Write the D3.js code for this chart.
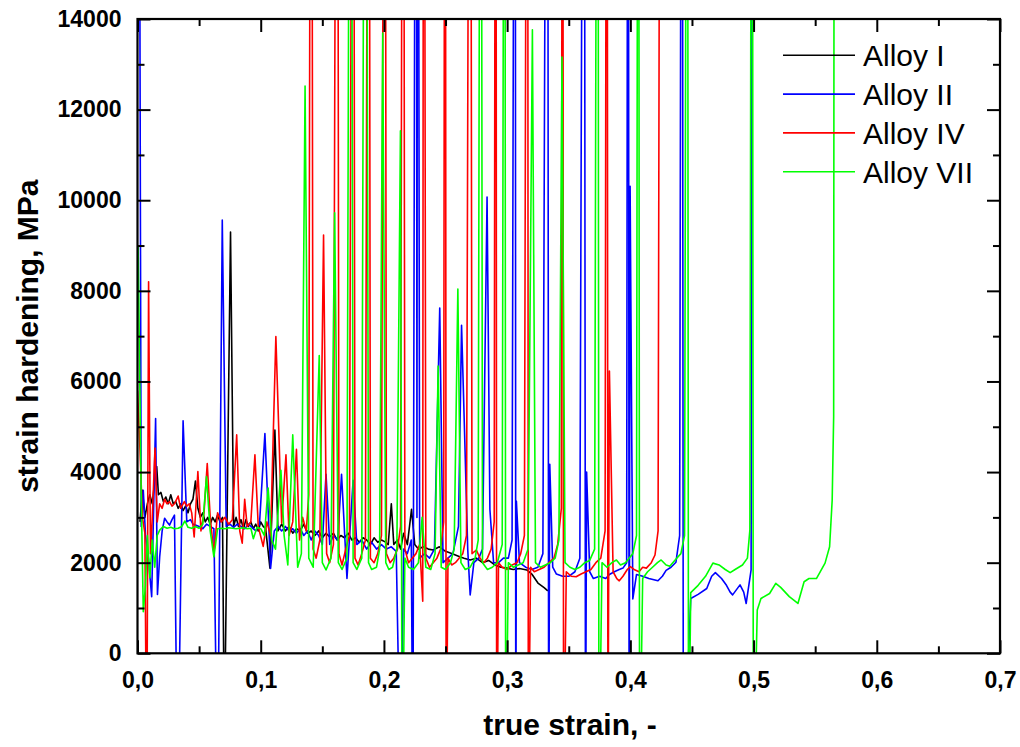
<!DOCTYPE html>
<html>
<head>
<meta charset="utf-8">
<script src="https://cdn.jsdelivr.net/npm/d3@7"></script>
<style>
  body { margin: 0; background: #fff; }
  svg { display: block; font-family: "Liberation Sans", Arial, sans-serif; }
</style>
</head>
<body>
<div id="chart"></div>
<script>
// strain hardening vs true strain, four alloys ([strain, MPa])
// values far above 14000 / below 0 are serration spikes that run off the frame
const seriesNames = ["Alloy I", "Alloy II", "Alloy IV", "Alloy VII"];
const seriesColors = ["#000000", "#0000ff", "#ff0000", "#00ff00"];

const alloyI = [
  [0.002, 2900], [0.004, 3600], [0.006, 3000], [0.008, 3300], [0.010, 3500], [0.012, 3300],
  [0.014, 3800], [0.0156, 4120], [0.017, 3500], [0.019, 3550], [0.021, 3350], [0.023, 3450],
  [0.025, 3300], [0.027, 3500], [0.029, 3300], [0.031, 3350], [0.033, 3200], [0.035, 3300],
  [0.037, 3150], [0.039, 3250], [0.041, 3100], [0.043, 3300], [0.045, 3400], [0.047, 3800],
  [0.049, 3200], [0.051, 3000], [0.053, 3100], [0.055, 2900], [0.057, 3000], [0.059, 2850],
  [0.061, 3000], [0.063, 2900], [0.065, 3050], [0.067, 2900], [0.069, 3000], [0.0705, -2000],
  [0.0755, 9300], [0.078, 2800], [0.080, 3000], [0.082, 2800], [0.084, 2950], [0.086, 2750],
  [0.088, 2950], [0.090, 2800], [0.092, 2900], [0.094, 2750], [0.096, 2850], [0.098, 2700],
  [0.100, 2900], [0.102, 2800], [0.104, 2750], [0.1075, 1880], [0.1115, 4930], [0.114, 2700],
  [0.117, 2850], [0.120, 2700], [0.123, 2800], [0.126, 2650], [0.129, 2750], [0.132, 2700],
  [0.135, 2850], [0.138, 2650], [0.141, 2700], [0.144, 2600], [0.147, 2700], [0.150, 2550],
  [0.153, 2650], [0.156, 2570], [0.159, 2650], [0.162, 2500], [0.165, 2600], [0.168, 2550],
  [0.171, 2650], [0.174, 2500], [0.177, 2550], [0.180, 2450], [0.183, 2550], [0.186, 2500],
  [0.189, 2400], [0.192, 2550], [0.195, 2450], [0.198, 2500], [0.201, 2460], [0.2035, 2400],
  [0.206, 3300], [0.208, 2400], [0.211, 2500], [0.2135, 2300], [0.216, 2650], [0.219, 2400],
  [0.2224, 3180], [0.225, 2400], [0.228, 2300], [0.232, 2350], [0.236, 2300], [0.240, 2280],
  [0.245, 2350], [0.250, 2250], [0.255, 2200], [0.260, 2150], [0.265, 2100], [0.270, 2060],
  [0.275, 2100], [0.280, 2000], [0.285, 2050], [0.290, 1950], [0.295, 1900], [0.300, 1880],
  [0.305, 1850], [0.310, 1870], [0.316, 1840], [0.320, 1750], [0.325, 1550], [0.330, 1450],
  [0.333, 1380]
];

const alloyII = [
  [0.0005, 30000], [0.003, 2800], [0.0047, 3600], [0.0065, 2600], [0.0088, 2100], [0.0115, 1250],
  [0.0147, 5180], [0.0162, 1300], [0.018, 2130], [0.020, 2700], [0.022, 2980], [0.024, 2900],
  [0.026, 2830], [0.028, 2950], [0.030, 3050], [0.0326, -3000], [0.037, 5130], [0.040, 2900],
  [0.043, 2950], [0.045, 2850], [0.047, 2830], [0.050, 2800], [0.053, 2750], [0.056, 2850],
  [0.059, 2800], [0.062, 2750], [0.065, -3000], [0.0688, 9560], [0.072, 2800], [0.075, 2850],
  [0.078, 2780], [0.081, 2850], [0.084, 2800], [0.087, 2750], [0.090, 2850], [0.093, 2780],
  [0.096, 2700], [0.099, 2850], [0.1034, 4850], [0.108, 1875], [0.111, 2700], [0.114, 2800],
  [0.117, 2700], [0.120, 2800], [0.123, 2700], [0.126, 2750], [0.129, 2650], [0.132, 2750],
  [0.135, 2600], [0.138, 2700], [0.141, 2500], [0.144, 2700], [0.147, 2600], [0.150, 2400],
  [0.153, 3950], [0.156, 2400], [0.159, 2600], [0.1625, 2500], [0.1656, 3950], [0.170, 1650],
  [0.175, 3820], [0.178, 2400], [0.182, 2500], [0.186, 2300], [0.190, 2450], [0.194, 2300],
  [0.198, 2400], [0.202, 2300], [0.206, 2350], [0.210, 2250], [0.2135, -3000], [0.216, 2300],
  [0.219, 2200], [0.2222, 2500], [0.2235, -3000], [0.2262, 30000], [0.2268, 3000], [0.2274, 30000],
  [0.229, 2100], [0.233, 2200], [0.237, 2100], [0.241, 2300], [0.2453, 7620], [0.248, 2000],
  [0.252, 2100], [0.256, 2200], [0.2605, 2800], [0.263, 7240], [0.2656, 4720], [0.268, 2300],
  [0.270, 1290], [0.273, 2000], [0.277, 2100], [0.280, 2300], [0.2837, 10070], [0.286, 3180],
  [0.289, 2000], [0.293, 2000], [0.297, 2100], [0.301, 2100], [0.304, 2500], [0.3065, 30000],
  [0.3070, -3000], [0.3075, 3360], [0.310, 2000], [0.315, 1900], [0.320, 1850], [0.325, 1900],
  [0.329, 2200], [0.3327, 30000], [0.3337, -3000], [0.3346, 4170], [0.337, 1900], [0.340, 1750],
  [0.345, 1700], [0.350, 1700], [0.355, 1800], [0.359, 2100], [0.3624, 30000], [0.3636, -3000],
  [0.3645, 4000], [0.367, 1800], [0.370, 1650], [0.375, 1700], [0.380, 1650], [0.383, 1740],
  [0.387, 1800], [0.391, 1850], [0.394, 1880], [0.397, 2000], [0.3982, 30000], [0.3990, -3000],
  [0.3998, 10310], [0.402, 1200], [0.405, 1740], [0.410, 1700], [0.415, 1650], [0.4224, 1600],
  [0.426, 1700], [0.429, 1830], [0.433, 1900], [0.437, 2010], [0.440, 2600], [0.4419, 30000],
  [0.4430, -3000], [0.449, 1210], [0.455, 1300], [0.462, 1430], [0.466, 1700], [0.469, 1780],
  [0.474, 1650], [0.478, 1500], [0.481, 1350], [0.483, 1290], [0.486, 1400], [0.489, 1510],
  [0.492, 1350], [0.494, 1100], [0.498, 1840], [0.4995, 30000]
];

const alloyIV = [
  [0.000, 5800], [0.002, 4500], [0.004, 3000], [0.006, 2650], [0.0075, -3000], [0.009, 8200],
  [0.0105, 2200], [0.012, 3000], [0.0142, 4530], [0.016, 2900], [0.018, 3300], [0.020, 3200],
  [0.022, 3400], [0.024, 3300], [0.026, 3350], [0.028, 3250], [0.030, 3300], [0.033, 3470],
  [0.035, 3200], [0.038, 3350], [0.040, 3250], [0.042, 3300], [0.044, 3100], [0.046, 2570],
  [0.049, 4010], [0.0515, 2700], [0.054, 3100], [0.0566, 4190], [0.059, 3000], [0.062, 2210],
  [0.065, 3100], [0.068, 2900], [0.071, 3000], [0.074, 2850], [0.077, 2950], [0.0805, 4820],
  [0.083, 2700], [0.085, 2430], [0.087, 3400], [0.089, 2800], [0.092, 2900], [0.0953, 4380],
  [0.098, 2800], [0.102, 2360], [0.105, 2900], [0.108, 2600], [0.1123, 6990], [0.117, 2870],
  [0.1205, 4380], [0.123, 2600], [0.126, 2900], [0.129, 4500], [0.1315, 2500], [0.134, 3000],
  [0.137, 2700], [0.139, 3500], [0.141, 30000], [0.1425, 2300], [0.145, 2100], [0.148, 2500],
  [0.151, 9230], [0.1535, 2200], [0.156, 2000], [0.159, 2400], [0.162, 30000], [0.1635, 2200],
  [0.166, 1950], [0.169, 2300], [0.172, 2600], [0.175, 30000], [0.1765, 2100], [0.179, 1950],
  [0.182, 2200], [0.185, 2500], [0.1877, 30000], [0.189, 2100], [0.192, 2000], [0.195, 2200],
  [0.198, 2600], [0.2007, 30000], [0.202, 2200], [0.205, 2000], [0.208, 2100], [0.211, 2300],
  [0.2135, 2800], [0.2156, 30000], [0.217, 2300], [0.220, 2000], [0.223, 2100], [0.226, 2200],
  [0.229, 2400], [0.2315, 1150], [0.2323, 30000], [0.234, 2100], [0.237, 1900], [0.240, 2000],
  [0.243, 2100], [0.246, 2300], [0.2485, 2900], [0.2497, 30000], [0.2505, -3000], [0.252, 2100],
  [0.255, 1950], [0.258, 2000], [0.261, 2100], [0.264, 2200], [0.267, 2600], [0.270, 30000],
  [0.2715, 2200], [0.275, 2280], [0.278, 2100], [0.281, 2000], [0.284, 2100], [0.287, 2300],
  [0.2895, 2900], [0.2908, 30000], [0.2915, -3000], [0.293, 2000], [0.296, 1900], [0.300, 1850],
  [0.304, 1950], [0.308, 2000], [0.311, 2200], [0.314, 2600], [0.3165, 30000], [0.3172, -3000],
  [0.319, 1900], [0.322, 1800], [0.326, 1850], [0.330, 1900], [0.334, 2000], [0.338, 2100],
  [0.341, 2400], [0.344, 3200], [0.345, 30000], [0.3458, -3000], [0.348, 1800], [0.352, 1700],
  [0.356, 1690], [0.360, 1750], [0.364, 1800], [0.368, 1850], [0.372, 2000], [0.376, 2100],
  [0.3795, 2700], [0.381, 30000], [0.3818, -3000], [0.383, 6230], [0.386, 1800], [0.389, 1650],
  [0.391, 1600], [0.394, 1700], [0.3975, 1850], [0.400, 1915], [0.403, 1850], [0.407, 1800],
  [0.410, 1900], [0.413, 1880], [0.417, 2000], [0.420, 2170], [0.4225, 2700], [0.4246, 30000]
];

const alloyVII = [
  [0.0005, 8970], [0.003, 3500], [0.0047, 920], [0.0065, 1500], [0.008, 2600], [0.010, 1670],
  [0.012, 2500], [0.014, 1900], [0.016, 2600], [0.018, 2720], [0.021, 2800], [0.024, 2760],
  [0.027, 2780], [0.030, 2750], [0.033, 2760], [0.036, 2800], [0.0385, 2920], [0.041, 2780],
  [0.044, 2760], [0.047, 2800], [0.050, 2760], [0.053, 2850], [0.056, 3900], [0.059, 2700],
  [0.062, 2130], [0.065, 2750], [0.068, 2760], [0.071, 2750], [0.074, 2770], [0.077, 2760],
  [0.080, 2750], [0.083, 2760], [0.086, 2770], [0.089, 2750], [0.092, 2760], [0.094, 2530],
  [0.097, 2780], [0.100, 2750], [0.103, 2600], [0.106, 3650], [0.109, 2500], [0.112, 2300],
  [0.1164, 4040], [0.119, 2600], [0.122, 1950], [0.126, 4820], [0.130, 1900], [0.133, 2200],
  [0.136, 12520], [0.139, 2100], [0.1426, 1900], [0.1475, 6570], [0.150, 2000], [0.153, 1840],
  [0.157, 2100], [0.160, 9720], [0.163, 2000], [0.166, 1850], [0.170, 2100], [0.173, 30000],
  [0.175, 2000], [0.178, 1850], [0.182, 2100], [0.185, 30000], [0.1875, 2000], [0.190, 1850],
  [0.194, 1900], [0.1965, 2300], [0.199, 13690], [0.2015, 2000], [0.204, 1850], [0.207, 1900],
  [0.2105, 2300], [0.2134, 11530], [0.2148, -3000], [0.217, 2100], [0.220, 1900], [0.224, 1850],
  [0.228, 2000], [0.231, 3000], [0.234, 1900], [0.238, 1850], [0.2415, 2200], [0.244, 6340],
  [0.2465, 1900], [0.250, 1850], [0.254, 2000], [0.257, 2300], [0.260, 8040], [0.2625, 2000],
  [0.266, 1850], [0.270, 1900], [0.274, 2100], [0.2765, 2500], [0.2786, 30000], [0.280, 2000],
  [0.284, 1850], [0.288, 1900], [0.292, 2000], [0.296, 2400], [0.298, 30000], [0.2988, -3000],
  [0.301, 2000], [0.305, 1900], [0.309, 1950], [0.313, 2000], [0.317, 2300], [0.3205, 13760],
  [0.323, 2000], [0.327, 1900], [0.331, 1950], [0.335, 2000], [0.339, 2100], [0.342, 2500],
  [0.3445, 13160], [0.347, 2000], [0.351, 1900], [0.355, 1850], [0.359, 1900], [0.363, 2000],
  [0.367, 2050], [0.371, 2300], [0.3735, 30000], [0.3745, -3000], [0.377, 2000], [0.381, 1900],
  [0.385, 2000], [0.3887, 2060], [0.392, 1950], [0.396, 2000], [0.399, 2100], [0.402, 2200],
  [0.405, 2600], [0.4065, 30000], [0.4075, -3000], [0.410, 1650], [0.414, 1800], [0.418, 1900],
  [0.422, 2000], [0.425, 2060], [0.429, 1950], [0.432, 1920], [0.436, 2050], [0.441, 2200],
  [0.444, 2600], [0.4462, 30000], [0.4472, -3000], [0.449, 1340], [0.455, 1500], [0.461, 1700],
  [0.467, 1990], [0.472, 1950], [0.477, 1850], [0.481, 1780], [0.485, 1850], [0.491, 1950],
  [0.495, 2100], [0.497, 2720], [0.4988, 30000], [0.4998, -3000], [0.503, 955], [0.506, 1210],
  [0.513, 1320], [0.518, 1545], [0.522, 1455], [0.529, 1250], [0.536, 1100], [0.541, 1580],
  [0.545, 1650], [0.551, 1650], [0.558, 1990], [0.5617, 2350], [0.5638, 3380], [0.565, 5220],
  [0.5657, 30000]
];

const xMajorTicks = [0, 0.1, 0.2, 0.3, 0.4, 0.5, 0.6, 0.7];
const xMinorTicks = [0.05, 0.15, 0.25, 0.35, 0.45, 0.55, 0.65];
const yMajorTicks = [0, 2000, 4000, 6000, 8000, 10000, 12000, 14000];
const yMinorTicks = [1000, 3000, 5000, 7000, 9000, 11000, 13000];

const allSeries = [alloyI, alloyII, alloyIV, alloyVII];

// set the dimensions and margins of the graph
const margin = { top: 19, right: 20, bottom: 93.7, left: 137.5 },
  width = 1020 - margin.left - margin.right,
  height = 747 - margin.top - margin.bottom;

const svg = d3.select("#chart")
  .append("svg")
  .attr("width", 1020)
  .attr("height", 747);

const g = svg.append("g")
  .attr("transform", `translate(${margin.left},${margin.top})`);

const x = d3.scaleLinear().domain([0, 0.7]).range([0, width]);
const y = d3.scaleLinear().domain([0, 14000]).range([height, 0]);

g.append("clipPath").attr("id", "plot-clip")
  .append("rect").attr("width", width).attr("height", height);

const line = d3.line().x(d => x(d[0])).y(d => y(d[1]));

g.append("g").attr("clip-path", "url(#plot-clip)")
  .selectAll("path")
  .data(allSeries)
  .join("path")
  .attr("fill", "none")
  .attr("stroke", (d, i) => seriesColors[i])
  .attr("stroke-width", 1.6)
  .attr("stroke-linejoin", "round")
  .attr("d", line);

// axes, ticks pointing inwards on all four sides
const fmt = d => d3.format(".1f")(d).replace(".", ",");

function styleAxis(sel) {
  sel.select(".domain").remove();
  sel.selectAll(".tick line").attr("stroke", "#000").attr("stroke-width", 2);
  sel.selectAll("text")
    .attr("fill", "#000")
    .style("font-size", "23px")
    .style("font-weight", "bold")
    .style("font-family", "'Liberation Sans', Arial, sans-serif");
}

g.append("g").attr("transform", `translate(0,${height})`)
  .call(d3.axisBottom(x).tickValues(xMajorTicks).tickSize(-13).tickPadding(18).tickFormat(fmt))
  .call(styleAxis);
g.append("g").attr("transform", `translate(0,${height})`)
  .call(d3.axisBottom(x).tickValues(xMinorTicks).tickSize(-7).tickFormat(""))
  .call(styleAxis);
g.append("g")
  .call(d3.axisTop(x).tickValues(xMajorTicks).tickSize(-13).tickFormat(""))
  .call(styleAxis);
g.append("g")
  .call(d3.axisTop(x).tickValues(xMinorTicks).tickSize(-7).tickFormat(""))
  .call(styleAxis);

g.append("g")
  .call(d3.axisLeft(y).tickValues(yMajorTicks).tickSize(-13).tickPadding(16).tickFormat(d3.format("d")))
  .call(styleAxis);
g.append("g")
  .call(d3.axisLeft(y).tickValues(yMinorTicks).tickSize(-7).tickFormat(""))
  .call(styleAxis);
g.append("g").attr("transform", `translate(${width},0)`)
  .call(d3.axisRight(y).tickValues(yMajorTicks).tickSize(-13).tickFormat(""))
  .call(styleAxis);
g.append("g").attr("transform", `translate(${width},0)`)
  .call(d3.axisRight(y).tickValues(yMinorTicks).tickSize(-7).tickFormat(""))
  .call(styleAxis);

g.append("rect")
  .attr("width", width)
  .attr("height", height)
  .attr("fill", "none")
  .attr("stroke", "#000")
  .attr("stroke-width", 2.2);

// axis titles
svg.append("text")
  .attr("x", 570)
  .attr("y", 735)
  .attr("text-anchor", "middle")
  .style("font-size", "30px")
  .style("font-weight", "bold")
  .text("true strain, -");

svg.append("text")
  .attr("transform", `translate(38,${margin.top + height / 2}) rotate(-90)`)
  .attr("text-anchor", "middle")
  .style("font-size", "30px")
  .style("font-weight", "bold")
  .text("strain hardening, MPa");

// legend
const legend = svg.append("g").attr("transform", "translate(783,55.3)");
seriesNames.forEach((name, i) => {
  const row = legend.append("g").attr("transform", `translate(0,${i * 38.8})`);
  row.append("line")
    .attr("x1", 0).attr("x2", 72)
    .attr("stroke", seriesColors[i])
    .attr("stroke-width", 1.6);
  row.append("text")
    .attr("x", 80)
    .attr("dy", "0.36em")
    .style("font-size", "30px")
    .text(name);
});
</script>
</body>
</html>
